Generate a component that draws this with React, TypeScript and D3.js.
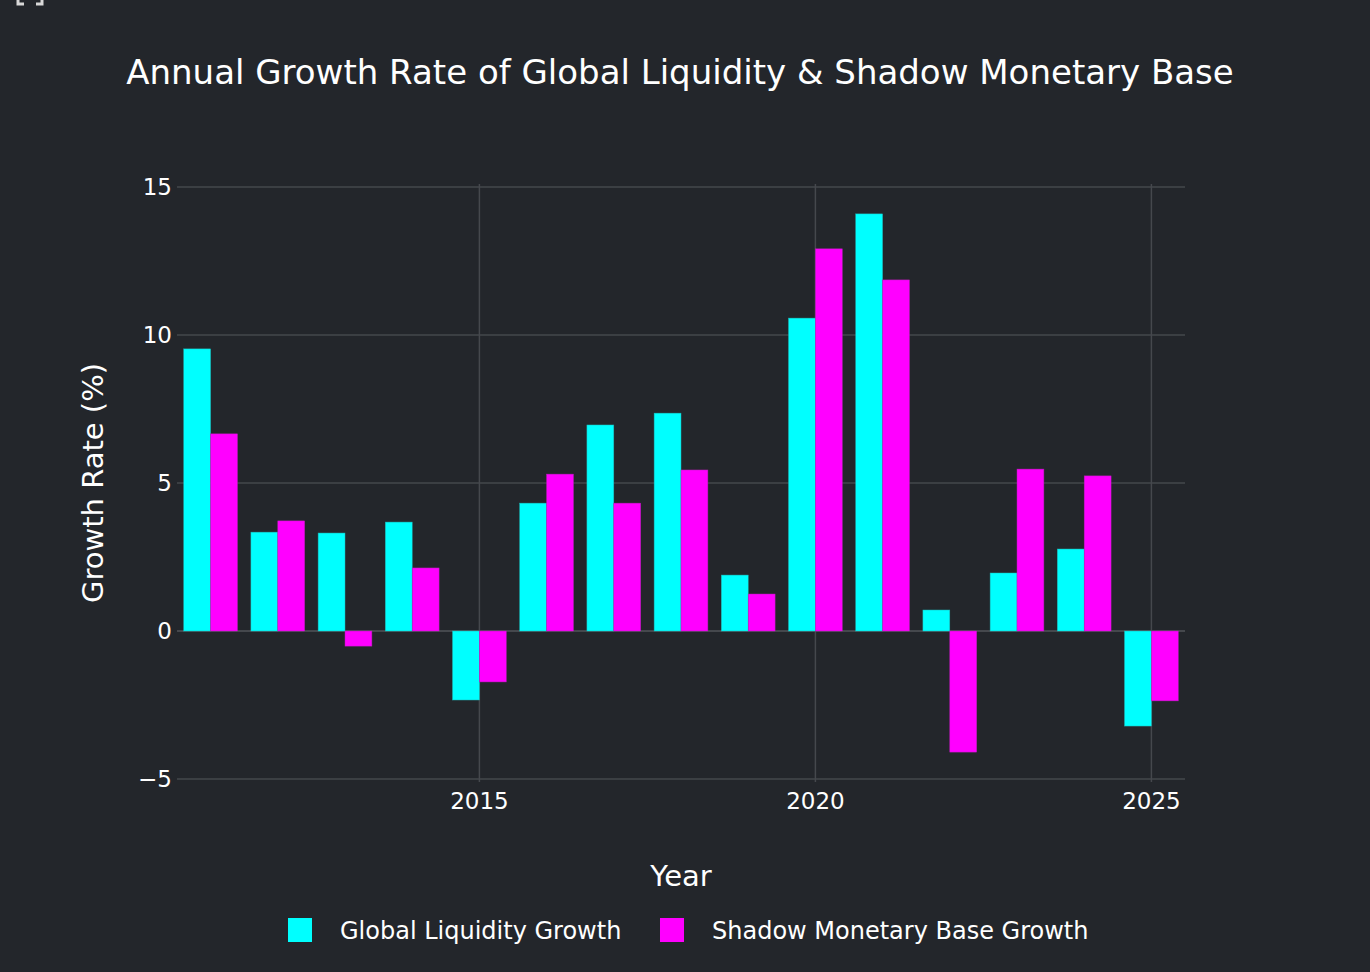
import React, { useMemo } from 'react';
import * as d3 from 'd3';

const years = [2011, 2012, 2013, 2014, 2015, 2016, 2017, 2018, 2019, 2020, 2021, 2022, 2023, 2024, 2025];
const liquidityGrowth = [9.53, 3.34, 3.31, 3.68, -2.33, 4.32, 6.96, 7.36, 1.89, 10.57, 14.09, 0.71, 1.96, 2.77, -3.21];
const shadowBaseGrowth = [6.66, 3.72, -0.51, 2.13, -1.72, 5.3, 4.32, 5.44, 1.25, 12.91, 11.86, -4.09, 5.47, 5.24, -2.36];
const seriesNames = ['Global Liquidity Growth', 'Shadow Monetary Base Growth'];
const seriesColors = ['#00ffff', '#ff00ff'];
const xTicks = [2015, 2020, 2025];
const yTicks = [-5, 0, 5, 10, 15];

const width = 1370;
const height = 972;
const margin = { top: 184, right: 185, bottom: 190, left: 177 };
const bg = '#23262b';
const grid = '#45484d';
const font = "'DejaVu Sans', Verdana, sans-serif";

const App = () => {
  const x = useMemo(() => d3.scaleLinear().domain([2010.5, 2025.5]).range([margin.left, width - margin.right]), []);
  const y = useMemo(() => d3.scaleLinear().domain([-5.1, 15.1]).range([height - margin.bottom, margin.top]), []);

  const groupWidth = (x(1) - x(0)) * 0.8;
  const bw = groupWidth / 2;
  const series = [liquidityGrowth, shadowBaseGrowth];

  return (
    <div style={{ position: 'fixed', left: 0, top: 0, width, height, background: bg }}>
      <svg width={width} height={height} style={{ display: 'block', fontFamily: font }}>
        <rect width={width} height={height} fill={bg} />
        <path d="M18,0 V4 H24 M42,0 V4 H36" stroke="#d8d8d8" strokeWidth={3} fill="none" />

        <text x={680} y={84} fill="#fff" fontSize={34} textAnchor="middle">
          Annual Growth Rate of Global Liquidity &amp; Shadow Monetary Base
        </text>

        {yTicks.map(t => (
          <g key={'y' + t}>
            <line x1={margin.left} x2={width - margin.right} y1={y(t)} y2={y(t)} stroke={grid} strokeWidth={t === 0 ? 2 : 1.5} />
            <text x={margin.left - 5} y={y(t)} dy="0.36em" fill="#fff" fontSize={23} textAnchor="end">
              {t < 0 ? '\u2212' + Math.abs(t) : t}
            </text>
          </g>
        ))}
        {xTicks.map(t => (
          <g key={'x' + t}>
            <line x1={x(t)} x2={x(t)} y1={margin.top} y2={height - margin.bottom} stroke={grid} strokeWidth={1.5} />
            <text x={x(t)} y={height - margin.bottom + 27} fill="#fff" fontSize={23} textAnchor="middle">{t}</text>
          </g>
        ))}

        {series.map((vals, si) => (
          <g key={'s' + si}>
            {vals.map((v, i) => {
              const x0 = x(years[i]) - groupWidth / 2 + si * bw;
              const y0 = y(Math.max(0, v));
              const h = Math.abs(y(v) - y(0));
              return (
                <rect key={i} x={x0} y={y0} width={bw} height={h} fill={seriesColors[si]}
                  stroke={si === 0 ? '#1fb5b5' : '#b51fb5'} strokeWidth={0.5} />
              );
            })}
          </g>
        ))}

        <text x={681} y={886} fill="#fff" fontSize={29} textAnchor="middle">Year</text>
        <text transform={`translate(103,${(margin.top + height - margin.bottom) / 2}) rotate(-90)`} fill="#fff" fontSize={29} textAnchor="middle">
          Growth Rate (%)
        </text>

        {seriesNames.map((name, i) => {
          const lx = i === 0 ? 288 : 660;
          return (
            <g key={name}>
              <rect x={lx} y={918} width={24} height={24} fill={seriesColors[i]} />
              <text x={lx + 52} y={939} fill="#fff" fontSize={24}>{name}</text>
            </g>
          );
        })}
      </svg>
    </div>
  );
};

export default App;
